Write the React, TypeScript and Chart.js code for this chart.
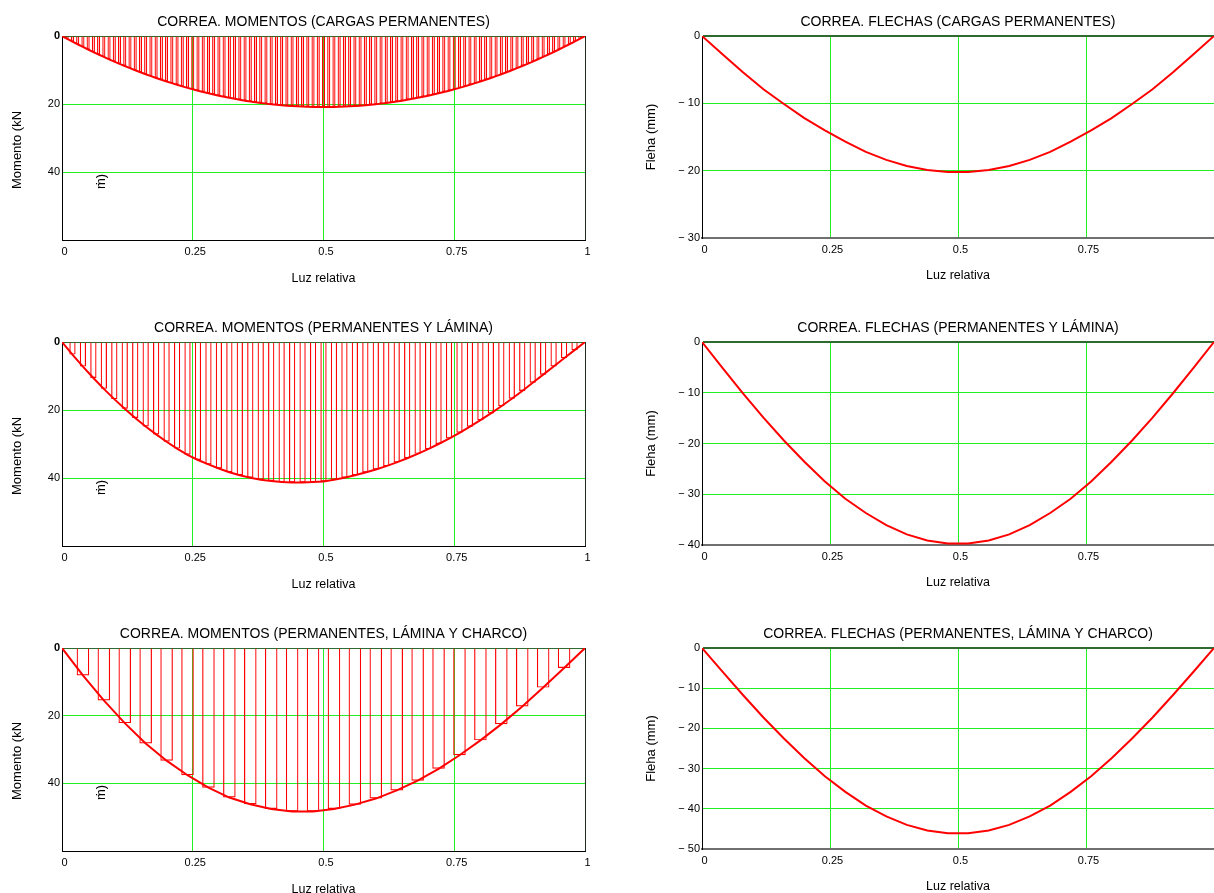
import React, { useEffect, useRef } from "react";
import { Chart, registerables } from "chart.js";

Chart.register(...registerables);

const FONT = "'Liberation Sans', Arial, Helvetica, sans-serif";
const RED = "#ff0000";
const GREEN = "#22ee22";
const DARK_GREEN = "#2f6a2f";
const AXIS = "#000000";
const GREY_AXIS = "#707070";

// ---------- texts ----------
const TITLE_M1 = "CORREA. MOMENTOS (CARGAS PERMANENTES)";
const TITLE_M2 = "CORREA. MOMENTOS (PERMANENTES Y LÁMINA)";
const TITLE_M3 = "CORREA. MOMENTOS (PERMANENTES, LÁMINA Y CHARCO)";
const TITLE_F1 = "CORREA. FLECHAS (CARGAS PERMANENTES)";
const TITLE_F2 = "CORREA. FLECHAS (PERMANENTES Y LÁMINA)";
const TITLE_F3 = "CORREA. FLECHAS (PERMANENTES, LÁMINA Y CHARCO)";
const MOMENT_AXIS_TITLE = "Momento (kN";
const MOMENT_AXIS_TAIL = "ṁ)";
const DEFLECTION_AXIS_TITLE = "Fleha (mm)";
const X_AXIS_TITLE = "Luz relativa";

// ---------- ticks ----------
const X_TICKS = [0, 0.25, 0.5, 0.75, 1];
const MOMENT_Y_TICKS = [0, 20, 40, 60];
const F1_Y_TICKS = [0, -10, -20, -30];
const F2_Y_TICKS = [0, -10, -20, -30, -40];
const F3_Y_TICKS = [0, -10, -20, -30, -40, -50];

// ---------- data ----------
const MOM1_X = [0,0.01,0.02,0.03,0.04,0.05,0.06,0.07,0.08,0.09,0.1,0.11,0.12,0.13,0.14,0.15,0.16,0.17,0.18,0.19,0.2,0.21,0.22,0.23,0.24,0.25,0.26,0.27,0.28,0.29,0.3,0.31,0.32,0.33,0.34,0.35,0.36,0.37,0.38,0.39,0.4,0.41,0.42,0.43,0.44,0.45,0.46,0.47,0.48,0.49,0.5,0.51,0.52,0.53,0.54,0.55,0.56,0.57,0.58,0.59,0.6,0.61,0.62,0.63,0.64,0.65,0.66,0.67,0.68,0.69,0.7,0.71,0.72,0.73,0.74,0.75,0.76,0.77,0.78,0.79,0.8,0.81,0.82,0.83,0.84,0.85,0.86,0.87,0.88,0.89,0.9,0.91,0.92,0.93,0.94,0.95,0.96,0.97,0.98,0.99,1];
const MOM1_Y = [0,0.83,1.64,2.43,3.21,3.97,4.72,5.44,6.15,6.85,7.52,8.18,8.83,9.46,10.07,10.66,11.24,11.8,12.34,12.87,13.38,13.87,14.35,14.81,15.25,15.68,16.08,16.48,16.85,17.21,17.56,17.88,18.19,18.48,18.76,19.02,19.26,19.49,19.7,19.89,20.06,20.22,20.36,20.49,20.6,20.69,20.77,20.82,20.87,20.89,20.9,20.89,20.87,20.82,20.77,20.69,20.6,20.49,20.36,20.22,20.06,19.89,19.7,19.49,19.26,19.02,18.76,18.48,18.19,17.88,17.56,17.21,16.85,16.48,16.08,15.68,15.25,14.81,14.35,13.87,13.38,12.87,12.34,11.8,11.24,10.66,10.07,9.46,8.83,8.18,7.52,6.85,6.15,5.44,4.72,3.97,3.21,2.43,1.64,0.83,0];

const MOM2_X = [0,0.02,0.04,0.06,0.08,0.1,0.12,0.14,0.16,0.18,0.2,0.22,0.24,0.26,0.28,0.3,0.32,0.34,0.36,0.38,0.4,0.42,0.44,0.46,0.48,0.5,0.52,0.54,0.56,0.58,0.6,0.62,0.64,0.66,0.68,0.7,0.72,0.74,0.76,0.78,0.8,0.82,0.84,0.86,0.88,0.9,0.92,0.94,0.96,0.98,1];
const MOM2_Y = [0,3.7,7.23,10.59,13.78,16.8,19.65,22.33,24.84,27.18,29.35,31.35,33.18,34.7,36.0,37.2,38.3,39.2,39.9,40.5,40.9,41.2,41.3,41.3,41.2,41.0,40.5,39.9,39.2,38.4,37.5,36.5,35.4,34.2,32.9,31.5,30.0,28.4,26.7,24.9,23.0,21.0,18.9,16.7,14.4,12.0,9.6,7.2,4.8,2.4,0];

const STEP4_X = [0,0.04,0.08,0.12,0.16,0.2,0.24,0.28,0.32,0.36,0.4,0.44,0.48,0.52,0.56,0.6,0.64,0.68,0.72,0.76,0.8,0.84,0.88,0.92,0.96,1];
const MOM3_Y = [0,8.1,15.5,22.2,28.2,33.3,37.6,41.3,44.2,46.2,47.6,48.3,48.3,47.6,46.3,44.5,42.1,39.2,35.7,31.7,27.3,22.5,17.3,11.7,5.9,0];

const FLE1_Y = [0,-2.7,-5.4,-7.9,-10.1,-12.2,-14.0,-15.7,-17.2,-18.4,-19.3,-19.9,-20.2,-20.2,-19.9,-19.3,-18.4,-17.2,-15.7,-14.0,-12.2,-10.1,-7.9,-5.4,-2.7,0];
const FLE2_Y = [0,-5.1,-10.1,-14.9,-19.4,-23.6,-27.5,-30.9,-33.7,-36.1,-37.9,-39.1,-39.7,-39.7,-39.1,-37.9,-36.1,-33.7,-30.9,-27.5,-23.6,-19.4,-14.9,-10.1,-5.1,0];
const FLE3_Y = [0,-5.9,-11.7,-17.3,-22.5,-27.4,-31.9,-35.8,-39.2,-41.9,-44.0,-45.4,-46.1,-46.1,-45.4,-44.0,-41.9,-39.2,-35.8,-31.9,-27.4,-22.5,-17.3,-11.7,-5.9,0];

type Spec = {
  kind: "moment" | "deflection";
  title: string;
  xs: number[];
  ys: number[];
  yTicks: number[];
  x: number;
  y: number;
  w: number;
  titleH: number;
  plotH: number;
  axisW: number;
  padRight: number;
  xTitlePad: number;
  xTickPad: number;
};

const X_AXIS_H = 50;

const SPECS: Spec[] = [
  { kind: "moment", title: TITLE_M1, xs: MOM1_X, ys: MOM1_Y, yTicks: MOMENT_Y_TICKS, x: 0, y: 0, w: 600, titleH: 36, plotH: 204, axisW: 62, padRight: 15, xTitlePad: 3.5, xTickPad: 5.5 },
  { kind: "moment", title: TITLE_M2, xs: MOM2_X, ys: MOM2_Y, yTicks: MOMENT_Y_TICKS, x: 0, y: 306, w: 600, titleH: 36, plotH: 204, axisW: 62, padRight: 15, xTitlePad: 3.5, xTickPad: 5.5 },
  { kind: "moment", title: TITLE_M3, xs: STEP4_X, ys: MOM3_Y, yTicks: MOMENT_Y_TICKS, x: 0, y: 612, w: 600, titleH: 36, plotH: 203, axisW: 62, padRight: 15, xTitlePad: 3.5, xTickPad: 5.5 },
  { kind: "deflection", title: TITLE_F1, xs: STEP4_X, ys: FLE1_Y, yTicks: F1_Y_TICKS, x: 614, y: 0, w: 605, titleH: 36, plotH: 202, axisW: 88, padRight: 0, xTitlePad: 5, xTickPad: 5 },
  { kind: "deflection", title: TITLE_F2, xs: STEP4_X, ys: FLE2_Y, yTicks: F2_Y_TICKS, x: 614, y: 306, w: 605, titleH: 36, plotH: 203, axisW: 88, padRight: 0, xTitlePad: 5, xTickPad: 5 },
  { kind: "deflection", title: TITLE_F3, xs: STEP4_X, ys: FLE3_Y, yTicks: F3_Y_TICKS, x: 614, y: 612, w: 605, titleH: 36, plotH: 201, axisW: 88, padRight: 0, xTitlePad: 5, xTickPad: 5 },
];

const momentAxisLabelPlugin = {
  id: "momentAxisLabel",
  afterDraw(chart: any) {
    const { ctx, chartArea } = chart;
    const y0 = chartArea.bottom - 51;
    ctx.save();
    ctx.font = `13px ${FONT}`;
    ctx.fillStyle = "#000";
    ctx.textBaseline = "middle";
    ctx.textAlign = "left";
    ctx.translate(17, y0);
    ctx.rotate(-Math.PI / 2);
    ctx.fillText(MOMENT_AXIS_TITLE, 0, 0);
    ctx.restore();
    ctx.save();
    ctx.font = `13px ${FONT}`;
    ctx.fillStyle = "#000";
    ctx.textBaseline = "middle";
    ctx.textAlign = "left";
    ctx.translate(chartArea.left + 39, y0);
    ctx.rotate(-Math.PI / 2);
    ctx.fillText(MOMENT_AXIS_TAIL, 0, 0);
    ctx.restore();
  },
};

function buildConfig(s: Spec): any {
  const isM = s.kind === "moment";
  const yMin = isM ? 0 : s.yTicks[s.yTicks.length - 1];
  const yMax = isM ? s.yTicks[s.yTicks.length - 1] : 0;
  const linePts = s.xs.map((x, i) => ({ x, y: s.ys[i] }));
  const datasets: any[] = [
    {
      type: "line",
      data: linePts,
      borderColor: RED,
      borderWidth: 2,
      pointRadius: 0,
      pointHoverRadius: 0,
      tension: 0,
      fill: false,
      order: 0,
    },
  ];
  if (isM) {
    datasets.push({
      type: "bar",
      data: s.xs.map((x, i) => ({ x, y: s.ys[i] })),
      backgroundColor: "rgba(0,0,0,0)",
      borderColor: RED,
      borderWidth: 1.2,
      borderSkipped: "start",
      barPercentage: 0.6,
      categoryPercentage: 1,
      order: 1,
    });
  }
  const tickFont = { family: FONT, size: 11 };
  return {
    type: isM ? "bar" : "line",
    data: { datasets },
    plugins: isM ? [momentAxisLabelPlugin] : [],
    options: {
      responsive: false,
      animation: false,
      devicePixelRatio: 1,
      layout: { padding: { left: 0, top: 0, right: s.padRight, bottom: 0 } },
      plugins: {
        legend: { display: false },
        tooltip: { enabled: false },
        title: {
          display: true,
          text: s.title,
          color: "#000",
          fullSize: false,
          font: { family: FONT, size: 14, weight: "normal", lineHeight: 1.2 },
          padding: { top: 13.6, bottom: s.titleH - 13.6 - 16.8 },
        },
      },
      scales: {
        x: {
          type: "linear",
          min: 0,
          max: 1,
          offset: false,
          afterBuildTicks: (sc: any) => {
            sc.ticks = X_TICKS.map((value) => ({ value }));
          },
          afterFit: (sc: any) => {
            sc.height = X_AXIS_H;
          },
          grid: {
            drawTicks: false,
            offset: false,
            lineWidth: 1,
            color: (c: any) => (c.tick && c.tick.value === 1 ? "#1e2e1e" : GREEN),
          },
          border: { display: true, color: isM ? AXIS : GREY_AXIS, width: isM ? 1 : 2 },
          ticks: {
            padding: s.xTickPad,
            labelOffset: 2.5,
            color: "#000",
            font: tickFont,
            maxRotation: 0,
            autoSkip: false,
            callback: (v: any) => (!isM && v === 1 ? "" : String(v)),
          },
          title: {
            display: true,
            text: X_AXIS_TITLE,
            color: "#000",
            font: { family: FONT, size: 12.5, lineHeight: 1.2 },
            padding: { top: 0, bottom: s.xTitlePad },
          },
        },
        y: {
          type: "linear",
          min: yMin,
          max: yMax,
          reverse: isM,
          afterBuildTicks: (sc: any) => {
            sc.ticks = s.yTicks.map((value) => ({ value }));
          },
          afterFit: (sc: any) => {
            sc.width = s.axisW;
          },
          grid: {
            drawTicks: false,
            color: (c: any) => {
              const v = c.tick ? c.tick.value : null;
              if (v === 0) return DARK_GREEN;
              if (isM && v === yMax) return AXIS;
              if (!isM && v === yMin) return GREY_AXIS;
              return GREEN;
            },
            lineWidth: (c: any) => (!isM && c.tick && c.tick.value === 0 ? 2 : 1),
          },
          border: { display: true, color: AXIS, width: 1 },
          ticks: {
            padding: 2,
            color: "#000",
            autoSkip: false,
            font: (c: any) => ({
              family: FONT,
              size: 11,
              weight: isM && c.tick && c.tick.value === 0 ? "bold" : "normal",
            }),
            callback: (v: any) => {
              if (isM) return v === yMax ? "" : String(v);
              return v === 0 ? "0" : "\u2212 " + String(-v);
            },
          },
          title: isM
            ? { display: false }
            : {
                display: true,
                text: DEFLECTION_AXIS_TITLE,
                color: "#000",
                font: { family: FONT, size: 13, lineHeight: 1.2 },
                padding: { top: 30, bottom: 0 },
              },
        },
      },
    },
  };
}

function ChartBox({ spec }: { spec: Spec }) {
  const ref = useRef<HTMLCanvasElement>(null);
  const h = spec.titleH + spec.plotH + X_AXIS_H;
  useEffect(() => {
    if (!ref.current) return;
    const chart = new Chart(ref.current, buildConfig(spec));
    return () => chart.destroy();
  }, [spec]);
  return (
    <canvas
      ref={ref}
      width={spec.w}
      height={h}
      style={{ position: "absolute", left: spec.x, top: spec.y, width: spec.w, height: h, display: "block" }}
    />
  );
}

export default function App() {
  return (
    <div
      style={{
        position: "absolute",
        left: 0,
        top: 0,
        width: 1214,
        height: 893,
        overflow: "hidden",
        background: "#ffffff",
      }}
    >
      {SPECS.map((s, i) => (
        <ChartBox key={i} spec={s} />
      ))}
    </div>
  );
}
